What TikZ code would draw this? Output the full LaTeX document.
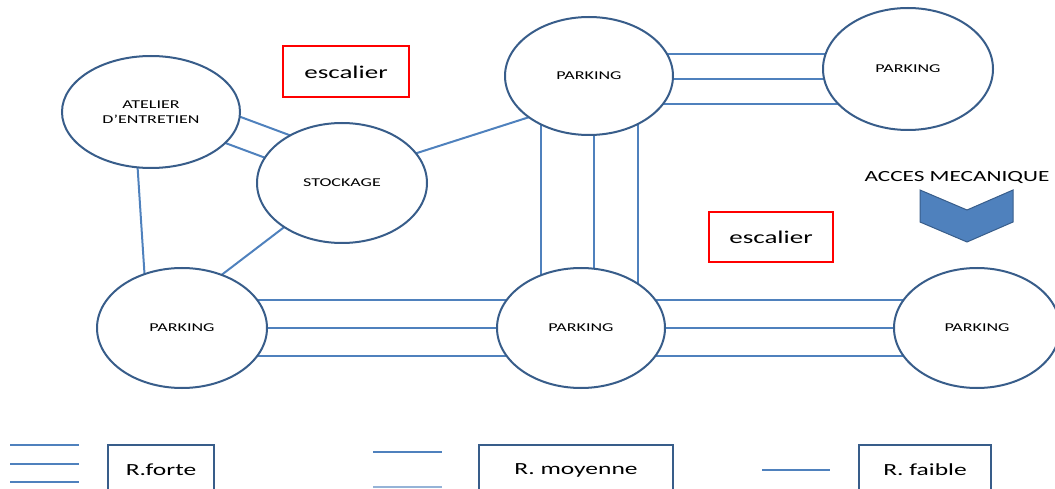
\documentclass[tikz,border=0pt]{standalone}
\usepackage{fontspec}
\setmainfont{Carlito}
\usetikzlibrary{shapes.geometric,backgrounds}
\definecolor{linkblue}{RGB}{79,129,189}
\definecolor{zoneblue}{RGB}{56,93,138}
\newcommand{\wide}[1]{\scalebox{1.5}[1]{#1}}
\tikzset{
    zone/.style={draw=zoneblue, ellipse, fill=white, line width=2pt,
        inner sep=0pt, minimum width=170pt, minimum height=120pt,
        align=center, font=\fontsize{12}{15}\selectfont},
    stairbox/.style={draw=red, line width=2pt, minimum width=126pt,
        minimum height=51pt, font=\fontsize{18}{20}\selectfont},
    keybox/.style={draw=zoneblue, line width=2pt, minimum height=50pt,
        font=\fontsize{17}{20}\selectfont},
    link/.style={draw=linkblue, line width=2pt}
}

\begin{document}
\begin{tikzpicture}[x=1pt, y=-1pt]
\path[use as bounding box, clip] (0,0) rectangle (1055,489);
% zones
\node[zone, minimum width=178pt, minimum height=112pt] (atelier) at (151,112) {\wide{ATELIER}\\\wide{D’ENTRETIEN}};
\node[zone] (stockage) at (342,183) {\wide{STOCKAGE}};
\node[zone, minimum width=168pt, minimum height=118pt] (parkA) at (589,76) {\wide{PARKING}};
\node[zone, minimum height=122pt] (parkB) at (908,69) {\wide{PARKING}};
\node[zone] (parkC) at (182,328) {\wide{PARKING}};
\node[zone, minimum width=168pt] (parkD) at (581,328) {\wide{PARKING}};
\node[zone, minimum width=166pt] (parkE) at (977,328) {\wide{PARKING}};
% stairs and access
\node[stairbox] (escA) at (346,72) {\wide{escalier}};
\node[stairbox, minimum width=124pt, minimum height=50pt] (escB) at (771,237) {\wide{escalier}};
\node[font=\fontsize{15.5}{18}\selectfont] (acces) at (957,177) {\wide{ACCES MECANIQUE}};
\draw[zoneblue, fill=linkblue, line width=1pt] (920,190) -- (967,210) -- (1013,190)
    -- (1013,222) -- (967,242) -- (920,222) -- cycle;
% relations
\begin{scope}[on background layer]
\draw[link] ([shift={(9pt,25pt)}]atelier.center) -- ([shift={(9pt,25pt)}]stockage.center);
\draw[link] ([shift={(-1pt,-3pt)}]atelier.center) -- ([shift={(-1pt,-3pt)}]stockage.center);
\draw[link] ([xshift=-17pt]atelier.center) -- ([xshift=-34pt]parkC.center);
\draw[link] (stockage.center) -- ([xshift=-30pt]parkC.center);
\draw[link] ([yshift=6pt]stockage.center) -- ([yshift=-22pt]parkA.center);
\foreach \dy in {22,-3,-28}
    \draw[link] ([yshift=\dy pt]parkA.center) -- ([yshift=\dy pt]parkA.center -| parkB.center);
\foreach \dx in {-48,5,49}
    \draw[link] ([xshift=\dx pt]parkA.center) -- ([xshift=\dx pt]parkA.center |- parkD.center);
\foreach \dy in {28,0,-28} {
    \draw[link] ([yshift=\dy pt]parkC.center) -- ([yshift=\dy pt]parkD.center);
    \draw[link] ([yshift=\dy pt]parkD.center) -- ([yshift=\dy pt]parkE.center);
}
\end{scope}
% legend
\node[keybox, minimum width=106pt] (kforte) at (161,470) {\wide{R.forte}};
\node[keybox, minimum width=194pt] (kmoyenne) at (576,470) {\wide{R. moyenne}};
\node[keybox, minimum width=132pt] (kfaible) at (925,470) {\wide{R. faible}};
\foreach \y in {445,464,482}
    \draw[link] (10,\y) -- (79,\y);
\draw[link] (373,452) -- (442,452);
\draw[link, draw=linkblue!60] (373,487) -- (442,487);
\draw[link] (762,470) -- (830,470);
\end{tikzpicture}
\end{document}
